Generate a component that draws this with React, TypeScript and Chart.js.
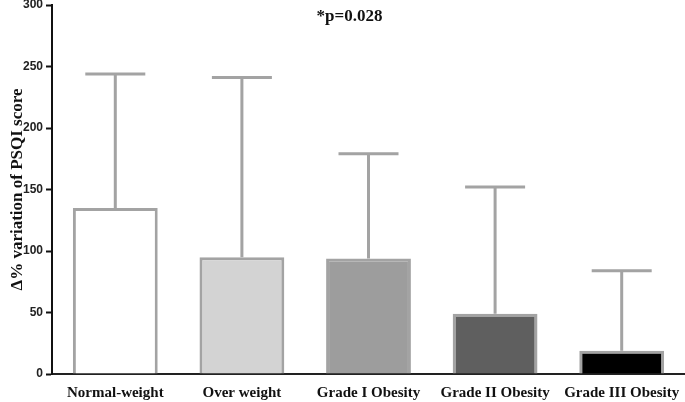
import React, { useEffect, useRef } from "react";
import { Chart, registerables } from "chart.js";

Chart.register(...registerables);

const categories = ["Normal-weight", "Over weight", "Grade I Obesity", "Grade II Obesity", "Grade III Obesity"];
const meanValues = [135, 95, 94, 49, 19];
const upperError = [244, 241, 179, 152, 84];
const barColors = ["#ffffff", "#d3d3d3", "#9d9d9d", "#5f5f5f", "#000000"];
const yTicks = [0, 50, 100, 150, 200, 250, 300];
const annotation = "*p=0.028";
const yTitle = "\u0394% variation of PSQI score";

const errorBarPlugin = {
  id: "errorBars",
  afterDatasetsDraw(chart: any) {
    const { ctx, scales } = chart;
    const x = scales.x;
    const y = scales.y;
    ctx.save();
    ctx.strokeStyle = "#a3a3a3";
    ctx.lineWidth = 3;
    meanValues.forEach((v, i) => {
      const cx = x.getPixelForValue(i);
      const yTop = y.getPixelForValue(upperError[i]);
      const yBar = y.getPixelForValue(v);
      ctx.beginPath();
      ctx.moveTo(cx, yBar);
      ctx.lineTo(cx, yTop);
      ctx.moveTo(cx - 30, yTop);
      ctx.lineTo(cx + 30, yTop);
      ctx.stroke();
    });
    ctx.fillStyle = "#111";
    ctx.font = "bold 17px 'Liberation Serif'";
    ctx.textAlign = "center";
    ctx.textBaseline = "middle";
    ctx.fillText(annotation, x.getPixelForValue(1.85), 17);
    ctx.restore();
  },
};

export default function App() {
  const ref = useRef<HTMLCanvasElement>(null);
  useEffect(() => {
    if (!ref.current) return;
    const chart = new Chart(ref.current, {
      type: "bar",
      data: {
        labels: categories,
        datasets: [
          {
            data: meanValues,
            backgroundColor: barColors,
            borderColor: "#a3a3a3",
            borderWidth: 3,
            borderSkipped: "bottom",
            categoryPercentage: 0.67,
            barPercentage: 1,
          },
        ],
      },
      options: {
        animation: false,
        responsive: false,
        maintainAspectRatio: false,
        layout: { padding: { top: 5, right: 0, left: 0, bottom: 0 } },
        plugins: { legend: { display: false }, tooltip: { enabled: false }, title: { display: false } },
        scales: {
          x: {
            grid: { display: false, drawTicks: false },
            border: { color: "#222", width: 2 },
            ticks: {
              color: "#111",
              padding: 10,
              font: { family: "'Liberation Serif'", weight: "bold", size: 15 },
              maxRotation: 0,
              autoSkip: false,
            },
            afterFit: (s: any) => {
              s.height = 28;
              s.paddingLeft = 0;
              s.paddingRight = 0;
            },
          },
          y: {
            min: 0,
            max: 300,
            afterBuildTicks: (s: any) => {
              s.ticks = yTicks.map((v) => ({ value: v }));
            },
            grid: { drawOnChartArea: false, drawTicks: true, tickLength: 6, tickWidth: 2, color: "#111" },
            border: { color: "#111", width: 2 },
            ticks: {
              color: "#222",
              padding: 3,
              font: { family: "'Liberation Sans'", weight: "bold", size: 12 },
            },
            title: {
              display: true,
              text: yTitle,
              color: "#111",
              font: { family: "'Liberation Serif'", weight: "bold", size: 17 },
              padding: { top: 7, bottom: 4 },
            },
            afterFit: (s: any) => {
              s.width = 52;
              s.paddingTop = 0;
              s.paddingBottom = 0;
            },
          },
        },
      },
      plugins: [errorBarPlugin],
    });
    return () => chart.destroy();
  }, []);
  return (
    <div style={{ position: "fixed", left: 0, top: 0, width: 685, height: 402, background: "#fff" }}>
      <canvas ref={ref} width={685} height={402} style={{ width: 685, height: 402 }} />
    </div>
  );
}
